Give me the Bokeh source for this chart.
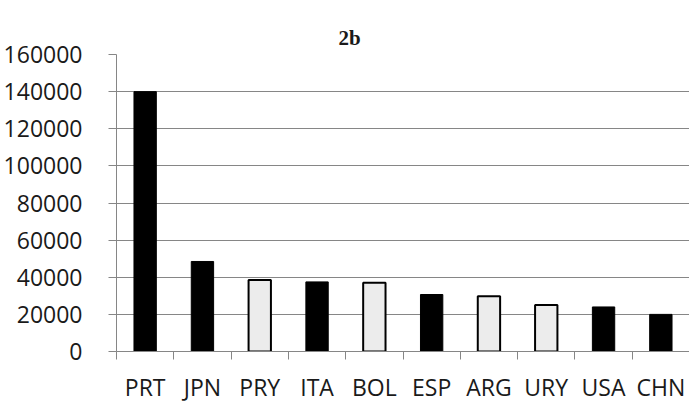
from bokeh.plotting import figure
from bokeh.models import (ColumnDataSource, Range1d, LinearAxis, FixedTicker)
from bokeh.embed import file_html
from bokeh.resources import INLINE

countries = ["PRT", "JPN", "PRY", "ITA", "BOL", "ESP", "ARG", "URY", "USA", "CHN"]
values = [140000, 48500, 38500, 37500, 37000, 30700, 29700, 25000, 24000, 20000]
highlight = [False, False, True, False, True, False, True, True, False, False]
y_ticks = [0, 20000, 40000, 60000, 80000, 100000, 120000, 140000, 160000]

GRID = "#868686"
TEXT = "#1a1a1a"

fills = ["#ececec" if h else "#000000" for h in highlight]
lines_w = [2 if h else 1 for h in highlight]
src = ColumnDataSource(dict(x=countries, top=values, fill=fills, lw=lines_w))

p = figure(x_range=countries, y_range=Range1d(0, 160000), width=689, height=405,
           output_backend="svg", toolbar_location=None, x_axis_location=None,
           y_axis_location=None, min_border_left=113, min_border_right=0,
           min_border_top=54, min_border_bottom=50)
p.outline_line_color = None
p.background_fill_color = "white"

p.vbar(x="x", top="top", width=0.39, bottom=0, source=src, fill_color="fill",
       line_color="black", line_width="lw")

# y axis
yax = LinearAxis(ticker=FixedTicker(ticks=y_ticks))
yax.axis_line_color = GRID
yax.major_tick_line_color = GRID
yax.major_tick_out = 8
yax.major_tick_in = 0
yax.minor_tick_line_color = None
yax.major_label_standoff = 26
yax.major_label_text_font = "Open Sans"
yax.major_label_text_font_size = "23px"
yax.major_label_text_color = TEXT
yax.formatter.use_scientific = False
p.add_layout(yax, "left")

# x axis on the categorical scale's synthetic coordinates:
# labels at category centres, tick marks at category boundaries
n = len(countries)
centres = [i + 0.5 for i in range(n)]
edges = list(range(n + 1))
xax = LinearAxis(ticker=FixedTicker(ticks=centres, minor_ticks=edges))
xax.major_label_overrides = {c: name for c, name in zip(centres, countries)}
xax.axis_line_color = GRID
xax.major_tick_line_color = None
xax.major_tick_out = 6
xax.major_tick_in = 0
xax.minor_tick_line_color = GRID
xax.minor_tick_out = 8
xax.minor_tick_in = 0
xax.major_label_standoff = 11
xax.major_label_text_font = "Open Sans"
xax.major_label_text_font_size = "23px"
xax.major_label_text_color = TEXT
p.add_layout(xax, "below")

# empty spacer between the plot area and the title
spacer = LinearAxis(ticker=FixedTicker(ticks=[], minor_ticks=[]))
spacer.axis_line_color = None
spacer.major_tick_line_color = None
spacer.minor_tick_line_color = None
spacer.major_tick_out = 15
spacer.major_tick_in = 0
spacer.minor_tick_out = 0
spacer.major_label_standoff = 0
p.add_layout(spacer, "above")

p.ygrid.ticker = FixedTicker(ticks=y_ticks)
p.ygrid.grid_line_color = GRID
p.xgrid.grid_line_color = None

p.title.text = "2b"
p.title.align = "left"
p.title.offset = 222
p.title.text_font = "Liberation Serif"
p.title.text_font_style = "bold"
p.title.text_font_size = "21px"
p.title.text_color = TEXT
p.title.standoff = 10

open("out.html", "w").write(file_html(p, INLINE))
